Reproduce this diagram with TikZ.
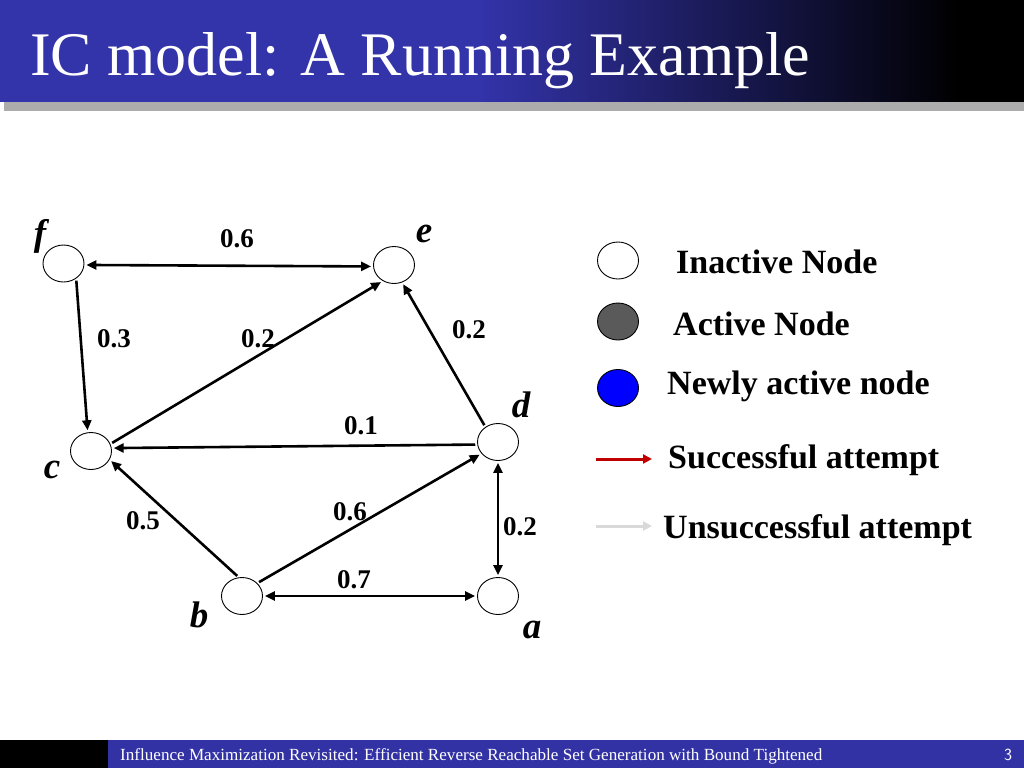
\documentclass[tikz,border=0pt]{standalone}
\usepackage{fontspec}
\setmainfont{Liberation Serif}
\usetikzlibrary{shapes.geometric,arrows.meta}
\definecolor{titleblue}{RGB}{51,51,170}
\definecolor{footblue}{RGB}{50,50,165}
\definecolor{actgray}{RGB}{90,90,90}
\definecolor{newblue}{RGB}{0,0,255}
\definecolor{succred}{RGB}{192,0,0}
\definecolor{unsgray}{RGB}{217,217,217}
\tikzset{
  gnode/.style={ellipse,draw=black,line width=0.9pt,fill=white,minimum width=41pt,minimum height=37pt,inner sep=0pt},
  glabel/.style={font=\fontsize{37}{37}\selectfont\bfseries\itshape,inner sep=0pt},
  elabel/.style={font=\fontsize{27}{27}\selectfont\bfseries,inner sep=0pt},
  legtext/.style={font=\fontsize{34}{34}\selectfont\bfseries,inner sep=0pt,anchor=base west},
  tip/.tip={Triangle[length=10pt,width=9pt]},
  edge/.style={line width=2.6pt,-tip,shorten >=2pt,shorten <=2pt},
  dedge/.style={line width=2.6pt,tip-tip,shorten >=2pt,shorten <=2pt},
}
\begin{document}
\begin{tikzpicture}[x=1pt,y=-1pt]
\useasboundingbox (0,0) rectangle (1024,768);
% title bar
\fill[titleblue] (0,0) rectangle (481,102);
\shade[left color=titleblue,right color=black] (480,0) rectangle (961,102);
\fill[black] (960,0) rectangle (1024,102);
\fill[gray!65] (4,102) rectangle (1024,111);
\node[anchor=base west,text=white,inner sep=0pt,font=\fontsize{62}{62}\selectfont] (title) at (30,75) {IC model: A Running Example};
% footer
\fill[black] (0,740) rectangle (108,768);
\fill[footblue] (108,740) rectangle (1024,768);
\node[anchor=base west,text=white,inner sep=0pt,font=\fontsize{17}{17}\selectfont] (foot) at (120,760) {\resizebox{702pt}{\height}{Influence Maximization Revisited: Efficient Reverse Reachable Set Generation with Bound Tightened}};
\node[anchor=base,text=white,inner sep=0pt,font=\fontsize{17}{17}\selectfont\sffamily] (pnum) at (1008,760) {3};
% graph nodes
\node[gnode] (f) at (63.5,263.5) {};
\node[gnode] (e) at (394,265) {};
\node[gnode] (c) at (91,451) {};
\node[gnode] (d) at (498,442) {};
\node[gnode] (b) at (242,596) {};
\node[gnode] (a) at (498,596) {};
% node letters
\node[glabel] (lf) at (40,236) {f};
\node[glabel] (le) at (424,234) {e};
\node[glabel] (ld) at (521,405) {d};
\node[glabel] (lc) at (52,470) {c};
\node[glabel] (lb) at (199,615) {b};
\node[glabel] (la) at (532,630) {a};
% edges
\draw[dedge] (f.-4) -- (e.184);
\draw[edge] (f.-50) -- (c.100);
\draw[edge] (c.20) -- (e.235);
\draw[edge] (d.130) -- (e.-65);
\draw[edge] (d.187) -- (c.8);
\draw[edge] (b.100) -- (c.-25);
\draw[edge] (b.40) -- (d.215);
\draw[dedge] (b.0) -- (a.180);
\draw[dedge] (d.-90) -- (a.90);
% edge labels
\node[elabel] (w1) at (237,239) {0.6};
\node[elabel] (w2) at (114,339) {0.3};
\node[elabel] (w3) at (258,339) {0.2};
\node[elabel] (w4) at (469,330) {0.2};
\node[elabel] (w5) at (361,426) {0.1};
\node[elabel] (w6) at (143,521) {0.5};
\node[elabel] (w7) at (350,512) {0.6};
\node[elabel] (w8) at (520,527) {0.2};
\node[elabel] (w9) at (354,580) {0.7};
% legend
\node[gnode] (l1) at (618,260.5) {};
\node[gnode,fill=actgray] (l2) at (618,321.5) {};
\node[gnode,fill=newblue] (l3) at (618,388) {};
\coordinate (r1) at (596,459);
\coordinate (r2) at (652,459);
\coordinate (g1) at (596,526);
\coordinate (g2) at (652,526);
\draw[succred,line width=3pt,-{Triangle[length=9pt,width=9pt]}] (r1) -- (r2);
\draw[unsgray,line width=3pt,-{Triangle[length=9pt,width=9pt]}] (g1) -- (g2);
\node[legtext] (t1) at (676,273) {Inactive Node};
\node[legtext] (t2) at (673,335) {Active Node};
\node[legtext] (t3) at (667,394) {Newly active node};
\node[legtext] (t4) at (668,468) {Successful attempt};
\node[legtext] (t5) at (663,538) {Unsuccessful attempt};
\end{tikzpicture}
\end{document}
